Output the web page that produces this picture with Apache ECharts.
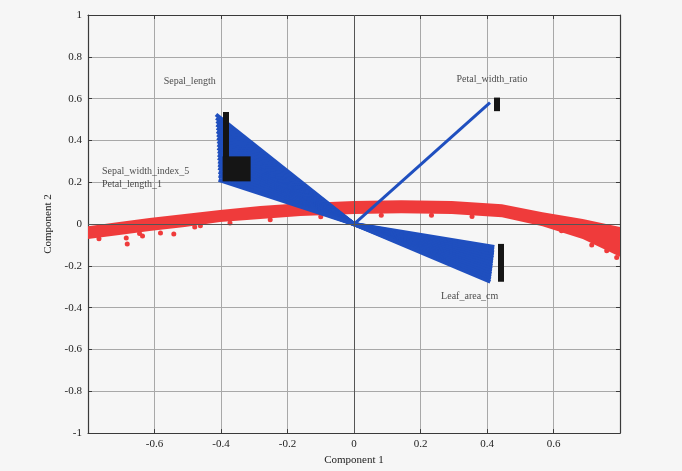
<!DOCTYPE html>
<html>
<head>
<meta charset="utf-8">
<script src="https://cdn.jsdelivr.net/npm/echarts@6/dist/echarts.min.js"></script>
<style>
  html, body { margin: 0; padding: 0; background: #f6f6f6; }
  #chart { width: 682px; height: 471px; }
</style>
</head>
<body>
<div id="chart"></div>
<script>
// axis ticks
const xTicks = [-0.8, -0.6, -0.4, -0.2, 0, 0.2, 0.4, 0.6, 0.8]
const yTicks = [-1, -0.8, -0.6, -0.4, -0.2, 0, 0.2, 0.4, 0.6, 0.8, 1]

// red scores band (upper / lower edge)
const bandX = [-0.8, -0.706, -0.615, -0.509, -0.403, -0.282, -0.161, 0, 0.142, 0.294, 0.445, 0.567, 0.688, 0.8]
const bandTop = [-0.01, 0.01, 0.029, 0.048, 0.067, 0.086, 0.1, 0.11, 0.114, 0.11, 0.095, 0.057, 0.024, -0.014]
const bandBottom = [-0.071, -0.052, -0.033, -0.014, 0.01, 0.024, 0.038, 0.048, 0.052, 0.048, 0.033, -0.01, -0.071, -0.157]

// loose red points under the band
const scoreX = [-0.739, -0.685, -0.682, -0.636, -0.582, -0.542, -0.479, -0.767, -0.645, -0.462, -0.373, -0.252, -0.1, 0.082, 0.233, 0.355, 0.624, 0.715, 0.76, 0.79]
const scoreY = [-0.043, -0.067, -0.095, -0.057, -0.043, -0.048, -0.014, -0.07, -0.045, -0.008, 0.005, 0.02, 0.035, 0.042, 0.042, 0.036, -0.032, -0.1, -0.128, -0.16]

// loading vectors: upper-left fan, single upper-right vector, lower-right fan
const fanAX = [-0.415, -0.414, -0.413, -0.413, -0.412, -0.412, -0.411, -0.411, -0.41, -0.41, -0.41, -0.409, -0.409, -0.409, -0.408, -0.408, -0.408, -0.407, -0.407, -0.407]
const fanAY = [0.524, 0.508, 0.492, 0.476, 0.46, 0.444, 0.428, 0.412, 0.396, 0.38, 0.364, 0.348, 0.332, 0.316, 0.3, 0.284, 0.268, 0.25, 0.232, 0.212]
const vecBX = [0.409]
const vecBY = [0.581]
const fanCX = [0.422, 0.421, 0.421, 0.42, 0.419, 0.418, 0.417, 0.416, 0.415, 0.414, 0.413, 0.412, 0.411, 0.41]
const fanCY = [-0.11, -0.123, -0.136, -0.149, -0.162, -0.175, -0.188, -0.201, -0.214, -0.227, -0.24, -0.252, -0.264, -0.276]

// black end marks
const barSegs = [
  [[-0.385, 0.536], [-0.385, 0.24]],
  [[0.429, 0.605], [0.429, 0.54]],
  [[0.441, -0.095], [0.441, -0.276]]
]
const blockPos = [[-0.353, 0.264]]

// variable labels
const labelNames = ['Sepal_length', 'Petal_width_ratio', 'Sepal_width_index_5\nPetal_length_1', 'Leaf_area_cm']
const labelPos = [[-0.494, 0.681], [0.415, 0.69], [-0.758, 0.222], [0.348, -0.348]]
const labelAlign = ['center', 'center', 'left', 'center']

const chart = echarts.init(document.getElementById('chart'))
const font = 'Liberation Serif'
const axisCol = '#3a3a3a'
const blue = '#1f4fbf'
const red = '#ef3b3b'

const fanLines = (xs, ys) => xs.map((x, i) => ({ coords: [[0, 0], [x, ys[i]]] }))

chart.setOption({
  animation: false,
  backgroundColor: '#f6f6f6',
  grid: { left: 88, right: 62, top: 15, bottom: 36 },
  xAxis: [
    {
      type: 'value', min: -0.8, max: 0.8, interval: 0.2,
      name: 'Component 1', nameLocation: 'middle', nameGap: 19,
      nameTextStyle: { fontFamily: font, fontSize: 11, color: '#222' },
      axisLine: { onZero: false, lineStyle: { color: axisCol, width: 1.2 } },
      axisTick: { inside: true, length: 4, lineStyle: { color: axisCol } },
      axisLabel: {
        showMinLabel: false, showMaxLabel: false, margin: 6,
        fontFamily: font, fontSize: 11, color: '#222',
        formatter: (v) => xTicks.includes(+v.toFixed(1)) ? String(+v.toFixed(1)) : ''
      },
      splitLine: { lineStyle: { color: '#a8a8a8', width: 1 } }
    },
    {
      type: 'value', position: 'top', min: -0.8, max: 0.8, interval: 0.2,
      axisLine: { onZero: false, lineStyle: { color: axisCol, width: 1.2 } },
      axisTick: { inside: true, length: 4, lineStyle: { color: axisCol } },
      axisLabel: { show: false }, splitLine: { show: false }
    }
  ],
  yAxis: [
    {
      type: 'value', min: -1, max: 1, interval: 0.2,
      name: 'Component 2', nameLocation: 'middle', nameGap: 34,
      nameTextStyle: { fontFamily: font, fontSize: 11, color: '#222' },
      axisLine: { onZero: false, lineStyle: { color: axisCol, width: 1.2 } },
      axisTick: { inside: true, length: 4, lineStyle: { color: axisCol } },
      axisLabel: {
        margin: 6, fontFamily: font, fontSize: 11, color: '#222',
        formatter: (v) => yTicks.includes(+v.toFixed(1)) ? String(+v.toFixed(1)) : ''
      },
      splitLine: { lineStyle: { color: '#a8a8a8', width: 1 } }
    },
    {
      type: 'value', position: 'right', min: -1, max: 1, interval: 0.2,
      axisLine: { onZero: false, lineStyle: { color: axisCol, width: 1.2 } },
      axisTick: { inside: true, length: 4, lineStyle: { color: axisCol } },
      axisLabel: { show: false }, splitLine: { show: false }
    }
  ],
  series: [
    {
      // zero lines
      type: 'line', data: [], silent: true,
      markLine: {
        symbol: 'none', silent: true, label: { show: false },
        lineStyle: { type: 'solid', color: '#555', width: 1 },
        data: [{ yAxis: 0 }, { xAxis: 0 }]
      }
    },
    {
      type: 'custom',
      data: [[0, 0]],
      silent: true,
      renderItem: (params, api) => {
        const pts = bandX.map((x, i) => api.coord([x, bandTop[i]]))
        for (let i = bandX.length - 1; i >= 0; i--) pts.push(api.coord([bandX[i], bandBottom[i]]))
        return { type: 'polygon', shape: { points: pts }, style: { fill: red } }
      },
      z: 3
    },
    {
      type: 'scatter',
      data: scoreX.map((x, i) => [x, scoreY[i]]),
      symbolSize: 5,
      itemStyle: { color: red, opacity: 1 },
      z: 3
    },
    {
      type: 'lines', coordinateSystem: 'cartesian2d',
      data: fanLines(fanAX, fanAY),
      lineStyle: { color: blue, width: 4, opacity: 1 },
      z: 4
    },
    {
      type: 'lines', coordinateSystem: 'cartesian2d',
      data: fanLines(vecBX, vecBY),
      lineStyle: { color: blue, width: 3, opacity: 1 },
      z: 4
    },
    {
      type: 'lines', coordinateSystem: 'cartesian2d',
      data: fanLines(fanCX, fanCY),
      lineStyle: { color: blue, width: 4, opacity: 1 },
      z: 4
    },
    {
      type: 'lines', coordinateSystem: 'cartesian2d',
      data: barSegs.map((c) => ({ coords: c })),
      lineStyle: { color: '#151515', width: 6, opacity: 1 },
      z: 5
    },
    {
      type: 'scatter',
      data: blockPos,
      symbol: 'rect', symbolSize: [28, 25],
      itemStyle: { color: '#151515', opacity: 1 },
      z: 5
    },
    {
      type: 'scatter',
      data: labelPos.map((p, i) => ({
        value: p,
        label: {
          show: true, position: 'inside', formatter: labelNames[i],
          align: labelAlign[i], fontFamily: font, fontSize: 10, color: '#222', lineHeight: 13
        }
      })),
      symbolSize: 0,
      z: 6
    }
  ]
})
</script>
</body>
</html>
